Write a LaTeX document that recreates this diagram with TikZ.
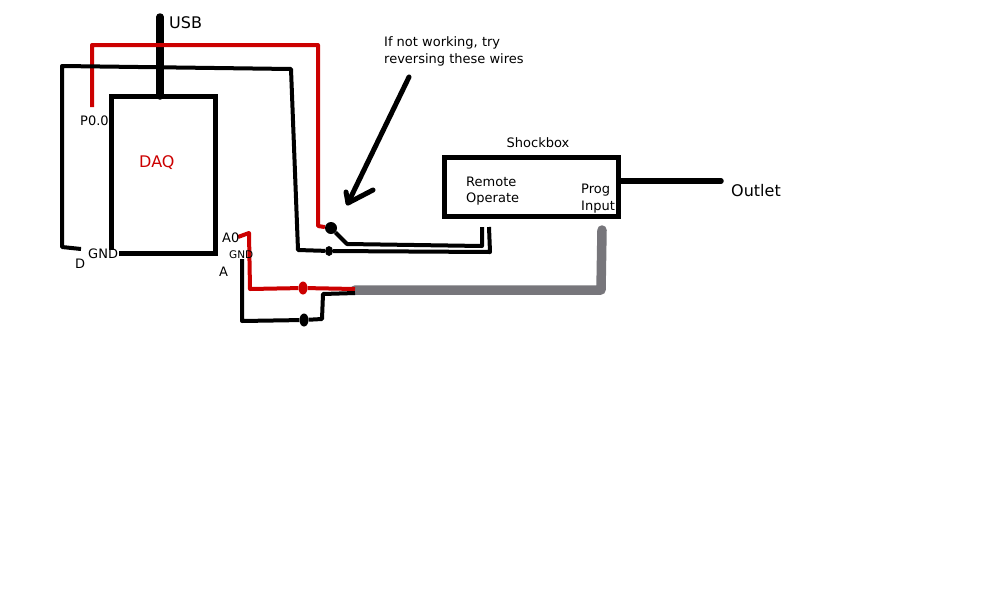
\documentclass[tikz,border=0pt]{standalone}
\usepackage{fontspec}
\setmainfont{DejaVu Sans}
\definecolor{wirered}{HTML}{CC0000}
\definecolor{wiregrey}{HTML}{77767B}
\tikzset{
  lab/.style={inner sep=0pt, anchor=west, font=\fontsize{13}{13}\selectfont},
  bigl/.style={inner sep=0pt, anchor=west, font=\fontsize{16}{16}\selectfont},
  wire/.style={line width=4pt, line cap=round, line join=round},
  redwire/.style={wire, wirered},
  blob/.style={ellipse, fill, inner sep=0pt, minimum width=9pt, minimum height=13pt},
}
\usetikzlibrary{shapes.geometric}
\begin{document}
\begin{tikzpicture}[x=1pt,y=-1pt]
\useasboundingbox (0,0) rectangle (1000,600);
% daq
\coordinate (daqtl) at (111,96);
\coordinate (daqtr) at (215,96);
\coordinate (daqbr) at (215,253);
\coordinate (daqbl) at (119,253);
\coordinate (daqll) at (111,250);
\draw[line width=5pt, line join=miter] (daqll) -- (daqtl) -- (daqtr) -- (daqbr) -- (daqbl);
\node[bigl, wirered] (daq) at (139,163){DAQ};
\coordinate (usbtop) at (160,17);
\coordinate (usbbot) at (160,96);
\draw[line width=7.5pt, line cap=round](usbtop) -- (usbbot);
\node[bigl] (usb) at (169,23){USB};
% P0.0 wire
\coordinate (pa) at (92,107);
\coordinate (pb) at (92,45);
\coordinate (pc) at (318,45);
\coordinate (pd) at (318,226);
\node[blob, minimum width=12pt, minimum height=12pt] (sw) at (331,228){};
\draw[redwire, line cap=butt](pa) -- (pb) -- (pc) -- (pd) -- (sw);
% gnd wire
\coordinate (ga) at (81,249);
\coordinate (gb) at (62,247);
\coordinate (gc) at (62,66);
\coordinate (gd) at (291,69);
\coordinate (ge) at (298,250);
\node[blob, minimum width=8pt, minimum height=10pt] (gdot) at (329,251){};
\coordinate (gf) at (490,252);
\coordinate (gg) at (489,227);
\draw[wire, line cap=butt](ga) -- (gb) -- (gc) -- (gd) -- (ge) -- (gdot) -- (gf) -- (gg);
\coordinate (ra) at (347,244);
\coordinate (rb) at (482,246);
\coordinate (rc) at (482,227);
\draw[wire, line cap=butt](sw) -- (ra) -- (rb) -- (rc);
% arrow
\coordinate (arra) at (409,77);
\coordinate (arrb) at (348,203);
\coordinate (arrc) at (346,192);
\coordinate (arrd) at (373,190);
\draw[line width=5pt, line cap=round, line join=round](arra) -- (arrb);
\draw[line width=5pt, line cap=round, line join=round](arrc) -- (arrb) -- (arrd);
% shockbox
\node[draw, line width=5pt, minimum width=174pt, minimum height=59pt, inner sep=0pt] (shock) at (531,186.5){};
\coordinate (outa) at (620,181);
\coordinate (outb) at (721,181);
\draw[line width=5.5pt, line cap=round](outa) -- (outb);
% grey cable
\coordinate (ca) at (602,230);
\coordinate (cb) at (601,290);
\coordinate (cc) at (355,290);
\draw[line width=9.5pt, wiregrey, line cap=round, line join=round](ca) -- (cb) -- (cc);
% A0 wire
\coordinate (aa) at (238,237);
\coordinate (ab) at (249,233);
\coordinate (ac) at (250,289);
\coordinate (ad) at (355,289);
\node[blob, wirered] (adot) at (303,288){};
\draw[redwire, line cap=butt](aa) -- (ab) -- (ac) -- (adot) -- (ad);
% A gnd wire
\coordinate (ba) at (242,259);
\coordinate (bb) at (242,321);
\node[blob] (bdot) at (304,320){};
\coordinate (bc) at (322,319);
\coordinate (bd) at (323,294);
\coordinate (be) at (355,293);
\draw[wire, line cap=butt](ba) -- (bb) -- (bdot) -- (bc) -- (bd) -- (be);
% labels
\node[lab] (pzero) at (80,121){P0.0};
\node[lab] (gndd) at (88,254){GND};
\node[lab] (d) at (75,264){D};
\node[lab] (azero) at (222,238){A0};
\node[lab, font=\fontsize{10.5}{10.5}\selectfont] (gnda) at (229,255){GND};
\node[lab] (a) at (219,272){A};
\node[lab] (wa) at (384,43){If not working, try};
\node[lab] (wb) at (384,60){reversing these wires};
\node[lab, anchor=center] (sname) at (538,143){Shockbox};
\node[lab] (rem) at (466,182){Remote};
\node[lab] (oper) at (466,199){Operate};
\node[lab] (prog) at (581,190){Prog};
\node[lab] (inp) at (581,207){Input};
\node[bigl] (outl) at (731,191){Outlet};
\end{tikzpicture}
\end{document}
